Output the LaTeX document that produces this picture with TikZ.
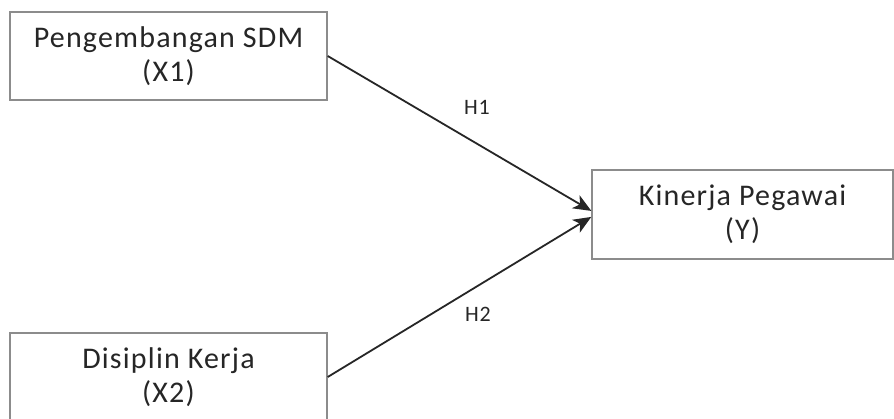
\documentclass[tikz,border=0pt]{standalone}
\usepackage{fontspec}
\usepackage{tikz}
\usetikzlibrary{arrows.meta}
\newfontfamily\boxfont[LetterSpace=4]{Carlito}

\tikzset{
	varbox/.style={draw=black!45, line width=0.7pt, align=center, inner sep=0pt,
		font=\boxfont\fontsize{15}{17}\selectfont, text=black!85},
	hyp/.style={font=\boxfont\fontsize{11}{12}\selectfont, text=black!85},
	path/.style={line width=0.9pt, black!85, -{Stealth[length=9pt,width=7.5pt,inset=2.5pt]}}
}

\begin{document}
\begin{tikzpicture}[x=0.5pt, y=-0.5pt]
	\clip (0,0) rectangle (894,418);
	\fill[white] (0,0) rectangle (894,418);
	
	\node (x1) at (168.5,56) [varbox, minimum width=158.5pt, minimum height=44pt] {Pengembangan SDM\\(X1)};
	\node (x2) at (168.5,377) [varbox, minimum width=158.5pt, minimum height=44pt] {Disiplin Kerja\\(X2)};
	\node (y) at (742.5,214.5) [varbox, minimum width=150.5pt, minimum height=44.5pt] {Kinerja Pegawai\\(Y)};
	
	\node (h1) at (477,107) [hyp] {H1};
	\node (h2) at (478,314) [hyp] {H2};
	
	\draw[path] (x1.east) -- ([yshift=1.8pt]y.west);
	\draw[path] (x2.east) -- ([yshift=-1.2pt]y.west);
\end{tikzpicture}
\end{document}
